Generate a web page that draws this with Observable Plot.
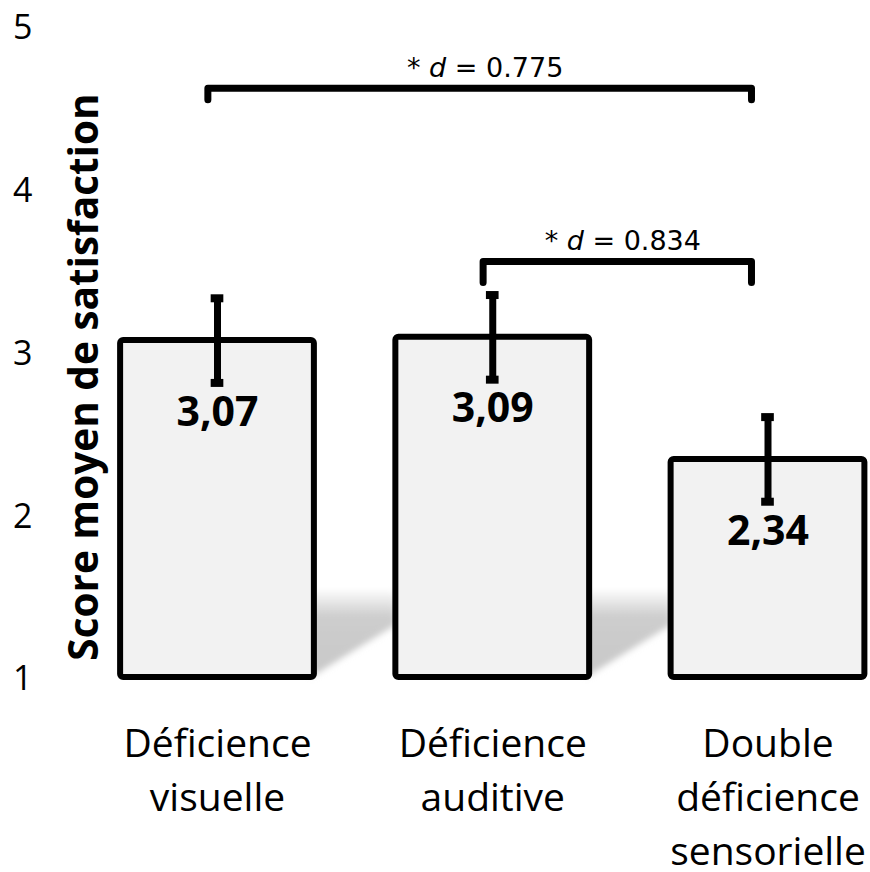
<!DOCTYPE html>
<html>
<head>
<meta charset="utf-8">
<script src="https://cdn.jsdelivr.net/npm/d3@7"></script>
<script src="https://cdn.jsdelivr.net/npm/@observablehq/plot@0.6"></script>
<style>
  body { margin: 0; background: white; }
</style>
</head>
<body>
<div id="chart"></div>
<script>
// ---- data ----
const categories = ["Déficience\nvisuelle", "Déficience\nauditive", "Double\ndéficience\nsensorielle"];
const means = [3.07, 3.09, 2.34];
const errors = [0.26, 0.26, 0.26];
const meanLabels = ["3,07", "3,09", "2,34"];
const compareFrom = [0, 1];
const compareTo = [2, 2];
const effectSizes = ["0.775", "0.834"];
const yTicks = [1, 2, 3, 4, 5];
const yTitle = "Score moyen de satisfaction";

// ---- layout constants ----
const half = 0.352;          // half bar width in band units
const capHalf = 0.023;
const bracketTop = [4.62, 3.556];
const bracketLeg = [4.55, 3.427];

const bars = means.map((m, i) => ({
  i, m, lo: m - errors[i], hi: m + errors[i], label: meanLabels[i]
}));
const caps = bars.flatMap(d => [{i: d.i, v: d.lo}, {i: d.i, v: d.hi}]);

const comps = compareFrom.map((f, k) => ({
  k, from: f, to: compareTo[k], d: effectSizes[k], top: bracketTop[k], leg: bracketLeg[k]
}));
const bracketPts = comps.flatMap(c => [
  {k: c.k, x: c.from - 0.035, y: c.leg},
  {k: c.k, x: c.from - 0.035, y: c.top},
  {k: c.k, x: c.to - 0.06, y: c.top},
  {k: c.k, x: c.to - 0.06, y: c.leg}
]);

// cast shadows between bars
const shadowPts = bars.slice(0, -1).flatMap(d => [
  {g: d.i, x: d.i + half - 0.01, y1: 1, y2: 1.53},
  {g: d.i, x: d.i + 1 - half, y1: 1.32, y2: 1.53}
]);

const svg = Plot.plot({
  width: 870,
  height: 872,
  marginTop: 26,
  marginBottom: 195,
  marginLeft: 40,
  marginRight: 0,
  style: {fontFamily: "'Open Sans', sans-serif", background: "white", color: "black", overflow: "visible"},
  x: {domain: [0, 2], range: [217, 767.5]},
  y: {domain: [1, 5], range: [677, 26]},
  marks: [
    Plot.areaY(shadowPts, {x: "x", y1: "y1", y2: "y2", z: "g", fill: "url(#shadowGrad)", curve: "linear"}),
    Plot.rect(bars, {x1: d => d.i - half, x2: d => d.i + half, y1: () => 1, y2: "m",
      fill: "#f2f2f2", stroke: "black", strokeWidth: 6, rx: 3}),
    Plot.ruleX(bars, {x: "i", y1: "lo", y2: "hi", stroke: "black", strokeWidth: 7}),
    Plot.ruleY(caps, {y: "v", x1: d => d.i - capHalf, x2: d => d.i + capHalf, stroke: "black", strokeWidth: 8}),
    Plot.text(bars, {x: "i", y: "m", dy: 72, text: "label", fontSize: 41, fontWeight: "bold", fill: "black"}),
    Plot.line(bracketPts, {x: "x", y: "y", z: "k", stroke: "black", strokeWidth: 7,
      strokeLinejoin: "round", curve: "linear"}),
    Plot.text(comps, {x: d => (d.from - 0.035 + d.to - 0.06) / 2 + 0.02, y: "top", dy: -20,
      text: d => `* d = ${d.d}`, fontSize: 27, fontFamily: "DejaVu Sans", fill: "black"}),
    Plot.axisY({ticks: yTicks, tickFormat: d => String(d), tickSize: 0, tickPadding: 8, fontSize: 34, label: null, dy: 2}),
    Plot.axisX({ticks: [0, 1, 2], tickFormat: i => categories[i], tickSize: 0, tickPadding: 41,
      fontSize: 39, lineHeight: 1.39, label: null}),
    Plot.text([yTitle], {frameAnchor: "left", text: d => d, rotate: -90, textAnchor: "middle", lineAnchor: "bottom",
      dx: 57, dy: 25, fontSize: 40.5, fontWeight: "bold", fill: "black"})
  ]
});

// gradient + blur for the shadow
const defs = d3.select(svg).insert("defs", ":first-child");
const grad = defs.append("linearGradient").attr("id", "shadowGrad")
  .attr("x1", 0).attr("y1", 0).attr("x2", 0).attr("y2", 1);
grad.append("stop").attr("offset", "0").attr("stop-color", "#fafafa");
grad.append("stop").attr("offset", "0.3").attr("stop-color", "#cdcdcd");
grad.append("stop").attr("offset", "1").attr("stop-color", "#c8c8c8");
defs.append("filter").attr("id", "shadowBlur").attr("x", "-20%").attr("y", "-20%")
  .attr("width", "140%").attr("height", "140%")
  .append("feGaussianBlur").attr("stdDeviation", 3);
d3.select(svg).selectAll("path").filter(function() {
  return this.getAttribute("fill") === "url(#shadowGrad)" ||
    (this.parentNode && this.parentNode.getAttribute("fill") === "url(#shadowGrad)");
}).attr("filter", "url(#shadowBlur)");

// italic "d" in the effect-size labels
d3.select(svg).selectAll("text").each(function() {
  const t = this.textContent;
  if (t.startsWith("* d = ")) {
    const s = d3.select(this);
    s.attr("font-family", "DejaVu Sans");
    s.text(null);
    s.append("tspan").text("* ");
    s.append("tspan").attr("font-style", "italic").text("d");
    s.append("tspan").text(t.slice(3));
  }
});

document.getElementById("chart").appendChild(svg);
</script>
</body>
</html>
